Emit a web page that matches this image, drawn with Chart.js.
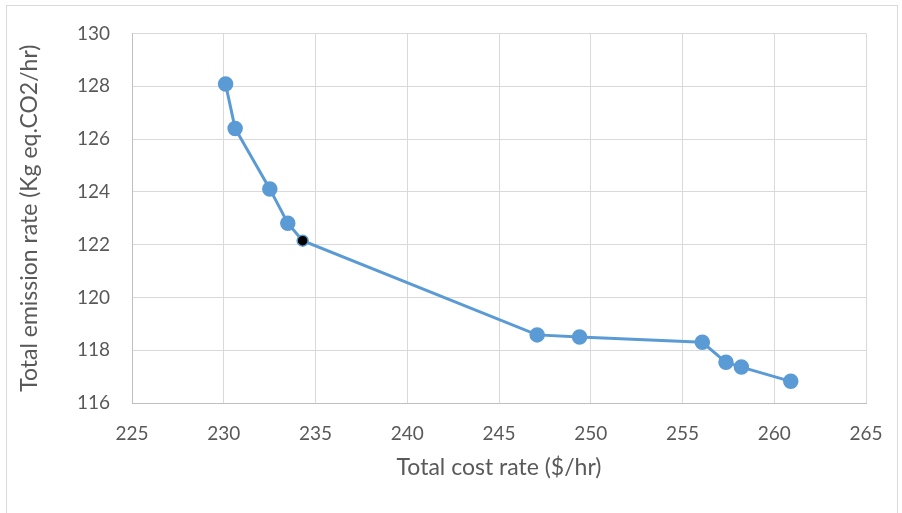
<!DOCTYPE html>
<html>
<head>
<meta charset="utf-8">
<script src="https://cdn.jsdelivr.net/npm/chart.js@4.4.1/dist/chart.umd.min.js"></script>
<style>
    body { margin: 0; background: #fff; }
    #frame { position: absolute; left: 6px; top: 5px; width: 890px; height: 520px; border: 1px solid #d9d9d9; }
    #wrap { position: absolute; left: 0; top: 0; width: 902px; height: 513px; }
</style>
</head>
<body>
<div id="frame"></div>
<div id="wrap"><canvas id="paretoChart" width="902" height="513"></canvas></div>
<script>
// DATA
const costRate = [230.1, 230.62, 232.51, 233.49, 234.3, 247.08, 249.39, 256.08, 257.37, 258.21, 260.9];
const emissionRate = [128.08, 126.4, 124.11, 122.81, 122.15, 118.58, 118.5, 118.3, 117.54, 117.36, 116.82];
const selectedIndex = 4; // THE BLACK POINT

const xTitle = "Total cost rate ($/hr)";
const yTitle = "Total emission rate (Kg eq.CO2/hr)";

const blue = "#5b9bd5";
const textColor = "#595959";
const fontFamily = "Lato, 'Open Sans', sans-serif";

const points = costRate.map((x, i) => ({ x: x, y: emissionRate[i] }));
const fillColors = points.map((p, i) => i === selectedIndex ? "#000000" : blue);
const radii = points.map((p, i) => i === selectedIndex ? 5.5 : 7);

const ctx = document.getElementById("paretoChart").getContext("2d");

new Chart(ctx, {
    type: "scatter",
    data: {
        datasets: [{
            data: points,
            showLine: true,
            borderColor: blue,
            borderWidth: 3,
            pointBackgroundColor: fillColors,
            pointBorderColor: blue,
            pointBorderWidth: 1.5,
            pointRadius: radii,
            pointHoverRadius: radii
        }]
    },
    options: {
        responsive: false,
        animation: false,
        layout: { padding: { left: 0, right: 36, top: 31, bottom: 0 } },
        plugins: {
            legend: { display: false },
            tooltip: { enabled: false }
        },
        scales: {
            x: {
                type: "linear",
                min: 225,
                max: 265,
                ticks: { stepSize: 5, color: textColor, font: { family: fontFamily, size: 19 }, padding: 19 },
                grid: { color: "#d9d9d9", drawTicks: false },
                border: { color: "#bfbfbf" },
                title: {
                    display: true,
                    text: xTitle,
                    color: textColor,
                    font: { family: fontFamily, size: 23 },
                    padding: { top: 4, bottom: 32 }
                },
                afterFit: scale => { scale.height = 110; }
            },
            y: {
                min: 116,
                max: 130,
                ticks: { stepSize: 2, color: textColor, font: { family: fontFamily, size: 19 }, padding: 22 },
                grid: { color: "#d9d9d9", drawTicks: false },
                border: { color: "#bfbfbf" },
                title: {
                    display: true,
                    text: yTitle,
                    color: textColor,
                    font: { family: fontFamily, size: 23 },
                    padding: { top: 16, bottom: 4 }
                },
                afterFit: scale => { scale.width = 132; }
            }
        }
    }
});
</script>
</body>
</html>
